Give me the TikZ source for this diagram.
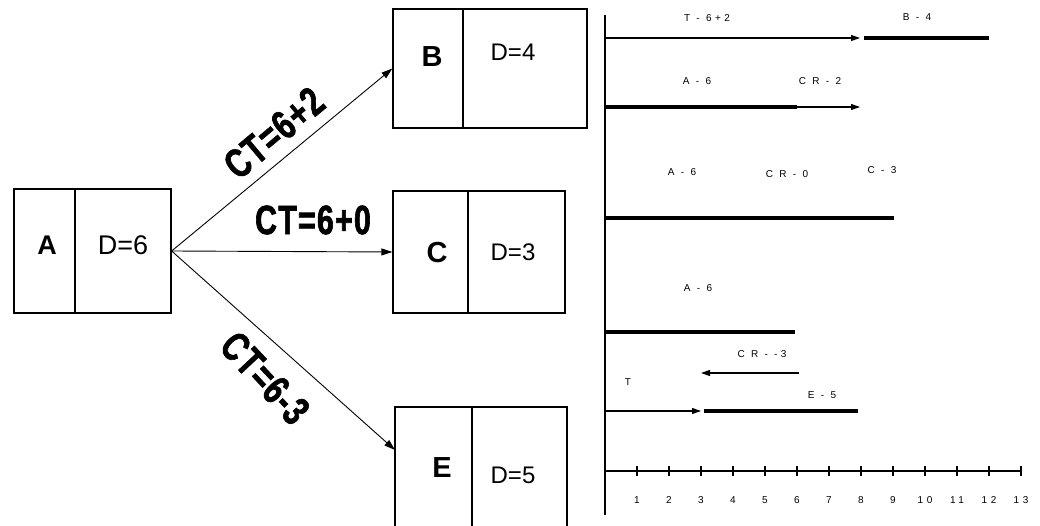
\documentclass[tikz,border=0pt]{standalone}
\usepackage{fontspec}
\setmainfont{Liberation Sans}
\newfontfamily\ctfont{Liberation Sans Bold}[FakeStretch=0.74,FakeBold=1.5,LetterSpace=3]
\newfontfamily\tlfont{Liberation Sans}[LetterSpace=35]
\usetikzlibrary{arrows.meta}
\tikzset{
  cell/.style={draw, line width=1.3pt, inner sep=0pt, minimum width=#1},
  boxtitle/.style={font=\fontsize{29}{29}\selectfont\bfseries, inner sep=0pt},
  boxdur/.style={font=\fontsize{24}{24}\selectfont, inner sep=0pt},
  ctlabel/.style={font=\ctfont\fontsize{41}{41}\selectfont, inner sep=0pt},
  link/.style={line width=0.9pt, -{Triangle[length=11pt,width=7pt]}},
  thinarr/.style={line width=1.1pt, -{Triangle[length=9pt,width=6pt]}},
  thick bar/.style={line width=3.2pt},
  axisline/.style={line width=1.5pt},
  tl/.style={font=\tlfont\fontsize{10}{10}\selectfont, inner sep=0pt},
  ticklab/.style={font=\tlfont\fontsize{10}{10}\selectfont, inner sep=0pt},
}
\begin{document}
\begin{tikzpicture}[x=1pt,y=-1pt]
\useasboundingbox (0,0) rectangle (1040,526);
\clip (0,0) rectangle (1040,526);
% boxes
\node[cell=61pt, minimum height=124pt] (A) at (44.5,251) {};
\node[cell=96pt, minimum height=124pt] (Ad) at (123,251) {};
\node[cell=70pt, minimum height=119pt] (B) at (428,68.5) {};
\node[cell=124pt, minimum height=119pt] (Bd) at (525,68.5) {};
\node[cell=75pt, minimum height=122pt] (C) at (430.5,252) {};
\node[cell=97pt, minimum height=122pt] (Cd) at (516.5,252) {};
\node[cell=77pt, minimum height=133pt] (E) at (433.5,473.5) {};
\node[cell=95pt, minimum height=133pt] (Ed) at (519.5,473.5) {};
% box texts
\node[boxtitle, font=\fontsize{27}{27}\selectfont\bfseries] (tA) at (47,245) {A};
\node[boxdur, font=\fontsize{27}{27}\selectfont] (tAd) at (123,245) {D=6};
\node[boxtitle] (tB) at (432,57) {B};
\node[boxdur] (tBd) at (513,52) {D=4};
\node[boxtitle] (tC) at (437,253) {C};
\node[boxdur] (tCd) at (513,252) {D=3};
\node[boxtitle] (tE) at (442,468) {E};
\node[boxdur] (tEd) at (513,475) {D=5};
% links
\coordinate (eIn) at (395,450);
\draw[link] (Ad.east) -- (B.west);
\draw[link] (Ad.east) -- (C.west);
\draw[link] (Ad.east) -- (eIn);
\node[ctlabel, rotate=40] (ct1) at (274,133) {CT=6+2};
\node[ctlabel] (ct2) at (313,220) {CT=6+0};
\node[ctlabel, rotate=-47] (ct3) at (265,378) {CT=6-3};
% timeline axes
\coordinate (vTop) at (605,15);
\coordinate (vBot) at (605,515);
\coordinate (hEnd) at (1022,471);
\draw[axisline] (vTop) -- (vBot);
\draw[line width=1.2pt] (605,471) -- (hEnd);
\foreach \i in {1,...,13} {
  \draw[line width=1.2pt] ({605+32*\i},466) -- ({605+32*\i},476);
  \node[ticklab] (tk\i) at ({605+32*\i},500) {\i};
}
% row 1
\draw[thinarr] (605,38) -- (860,38);
\draw[thick bar] (864,38) -- (989,38);
\node[tl] (l1a) at (707,18) {T - 6+2};
\node[tl] (l1b) at (917,17) {B - 4};
% row 2
\draw[thick bar] (605,107) -- (797,107);
\draw[thinarr] (797,107) -- (860,107);
\node[tl] (l2a) at (697,81) {A - 6};
\node[tl] (l2b) at (820,81) {C R - 2};
% row 3
\draw[thick bar] (605,218) -- (894,218);
\node[tl] (l3a) at (682,172) {A - 6};
\node[tl] (l3b) at (787,174) {C R - 0};
\node[tl] (l3c) at (882,170) {C - 3};
% row 4
\draw[thick bar] (605,332) -- (795,332);
\node[tl] (l4a) at (698,288) {A - 6};
\node[tl] (l4b) at (762,354) {C R - -3};
\draw[thinarr] (799,373) -- (701,373);
\node[tl] (l4c) at (628,382) {T};
% row 5
\draw[thinarr] (605,411) -- (701,411);
\draw[thick bar] (704,411) -- (858,411);
\node[tl] (l5a) at (822,395) {E - 5};
\end{tikzpicture}
\end{document}
